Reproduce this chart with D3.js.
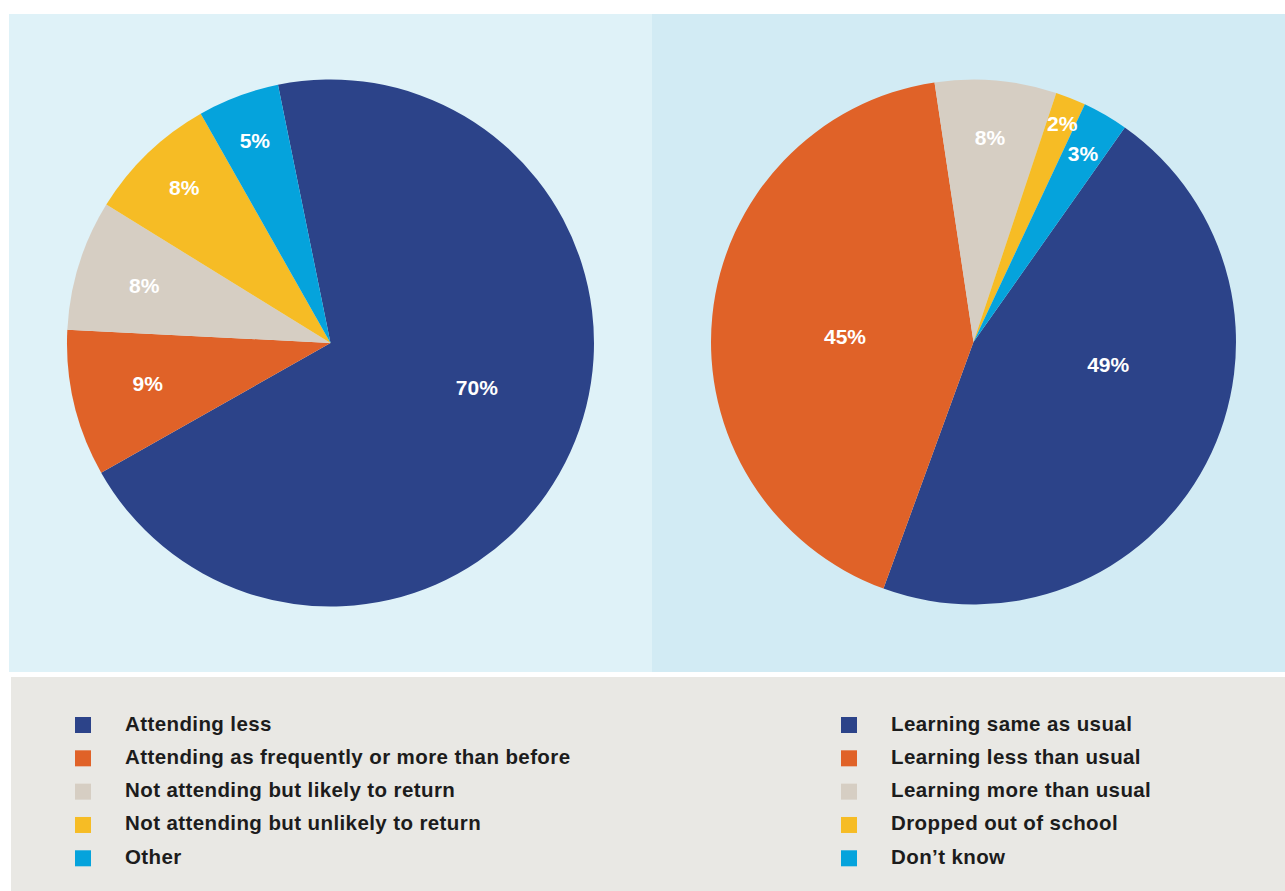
<!DOCTYPE html>
<html>
<head>
<meta charset="utf-8">
<script src="https://cdn.jsdelivr.net/npm/d3@7"></script>
<style>
  html, body { margin: 0; padding: 0; background: #ffffff; }
  svg { display: block; }
</style>
</head>
<body>
<svg id="chart" width="1285" height="891"></svg>
<script>
// Attendance status of children (left pie)
const attendanceCategories = [
  "Attending less",
  "Attending as frequently or more than before",
  "Not attending but likely to return",
  "Not attending but unlikely to return",
  "Other"
];
const attendanceValues = [70, 9, 8, 8, 5];

// Perceived learning (right pie)
const learningCategories = [
  "Learning same as usual",
  "Learning less than usual",
  "Learning more than usual",
  "Dropped out of school",
  "Don\u2019t know"
];
const learningValues = [49, 45, 8, 2, 3];

const sliceColors = ["#2c4389", "#e06228", "#d6cec3", "#f6bc25", "#05a3dc"];

// Layout
const panels = [
  { x: 9, y: 14, w: 643, h: 658, fill: "#dff2f8" },
  { x: 652, y: 14, w: 633, h: 658, fill: "#d2ebf4" }
];
const legendBox = { x: 11, y: 677, w: 1274, h: 214, fill: "#e9e8e4" };

const pies = [
  {
    values: attendanceValues, categories: attendanceCategories,
    cx: 330.5, cy: 343, r: 263.5, start: -11.5,
    // label placement: radius fraction and angular shift (deg) from slice middle
    labelR: [0.58, 0.71, 0.74, 0.81, 0.82],
    labelShift: [-7.7, 0.9, -0.2, 0.6, 0],
    legendX: 75
  },
  {
    values: learningValues, categories: learningCategories,
    cx: 973.5, cy: 342, r: 262.5, start: 35.2,
    labelR: [0.52, 0.49, 0.78, 0.90, 0.83],
    labelShift: [-18.2, -3.3, -0.3, 0.3, 0],
    legendX: 841
  }
];

const svg = d3.select("#chart");

svg.selectAll("rect.panel").data(panels).join("rect")
  .attr("class", "panel")
  .attr("x", d => d.x).attr("y", d => d.y)
  .attr("width", d => d.w).attr("height", d => d.h)
  .attr("fill", d => d.fill);

svg.append("rect")
  .attr("x", legendBox.x).attr("y", legendBox.y)
  .attr("width", legendBox.w).attr("height", legendBox.h)
  .attr("fill", legendBox.fill);

const color = d3.scaleOrdinal().domain(d3.range(5)).range(sliceColors);
const rad = Math.PI / 180;

pies.forEach(p => {
  const pie = d3.pie().sort(null)
    .startAngle(p.start * rad)
    .endAngle(p.start * rad + 2 * Math.PI);
  const arcs = pie(p.values);
  const arc = d3.arc().innerRadius(0).outerRadius(p.r);

  const g = svg.append("g").attr("transform", `translate(${p.cx},${p.cy})`);

  g.selectAll("path").data(arcs).join("path")
    .attr("d", arc)
    .attr("fill", (d, i) => color(i));

  g.selectAll("text").data(arcs).join("text")
    .attr("transform", (d, i) => {
      const a = (d.startAngle + d.endAngle) / 2 + p.labelShift[i] * rad;
      const rr = p.r * p.labelR[i];
      return `translate(${rr * Math.sin(a)},${-rr * Math.cos(a)})`;
    })
    .attr("text-anchor", "middle")
    .attr("dominant-baseline", "central")
    .attr("font-family", "'Liberation Sans', Arial, sans-serif")
    .attr("font-weight", "bold")
    .attr("font-size", 21)
    .attr("fill", "#ffffff")
    .text(d => d.data + "%");

  // Legend column
  const rowY = d3.scalePoint().domain(d3.range(5)).range([717, 850.3]);
  const lg = svg.append("g");
  const rows = lg.selectAll("g").data(p.categories).join("g")
    .attr("transform", (d, i) => `translate(${p.legendX},${rowY(i)})`);
  rows.append("rect")
    .attr("width", 16).attr("height", 16)
    .attr("fill", (d, i) => color(i));
  rows.append("text")
    .attr("x", 50).attr("y", 13.5)
    .attr("font-family", "'Liberation Sans', Arial, sans-serif")
    .attr("font-weight", "bold")
    .attr("font-size", 20.5)
    .attr("letter-spacing", 0.4)
    .attr("fill", "#1c1c1c")
    .text(d => d);
});
</script>
</body>
</html>
